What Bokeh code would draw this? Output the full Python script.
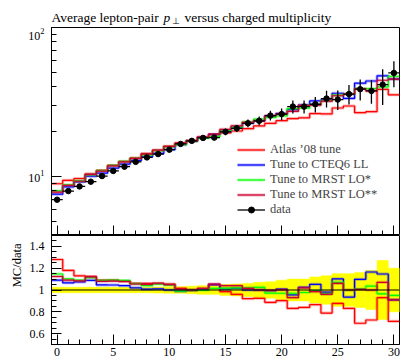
import numpy as np
from bokeh.plotting import figure
from bokeh.models import (Range1d, Legend, LegendItem, SingleIntervalTicker, FixedTicker,
                          LogTickFormatter, CustomJSTickFormatter, CustomLabelingPolicy, Span,
                          Title)
from bokeh.core.properties import value
from bokeh.layouts import column
from bokeh.embed import file_html
from bokeh.resources import INLINE

# ---------------- data ----------------
multiplicity = list(range(31))
data_mean_pt = [6.96, 7.96, 8.55, 9.2, 10.04, 10.86, 11.6, 12.5, 13.4, 14.1, 15.1,
                16.5, 17.3, 18.1, 18.2, 19.9, 21.0, 22.7, 23.6, 25.6, 26.2,
                29.4, 29.4, 30.5, 33.3, 32.8, 35.7, 38.5, 37.5, 41.3, 49.5]
data_rel_err = [0.025, 0.025, 0.025, 0.025, 0.025, 0.025, 0.025, 0.025, 0.025, 0.028, 0.03,
                0.03, 0.035, 0.04, 0.04, 0.05, 0.055, 0.06, 0.07, 0.075, 0.09,
                0.1, 0.1, 0.12, 0.13, 0.15, 0.15, 0.16, 0.18, 0.27, 0.2]
atlas08_ratio = [1.28, 1.18, 1.13, 1.125, 1.09, 1.09, 1.08, 1.06, 1.06, 1.06, 1.055,
                 1.015, 1.0, 1.01, 1.05, 0.985, 0.96, 0.92, 0.924, 0.886, 0.902,
                 0.831, 0.84, 0.865, 0.788, 0.877, 0.831, 0.695, 0.725, 0.93, 0.713]
cteq6ll_ratio = [1.09, 1.066, 1.074, 1.089, 1.047, 1.046, 1.04, 1.02, 1.008, 1.01, 1.0,
                 0.988, 0.997, 1.008, 1.05, 1.01, 1.015, 1.0, 1.0, 0.993, 1.008,
                 0.955, 1.025, 1.052, 0.98, 1.102, 0.935, 1.098, 1.165, 1.147, 0.91]
mrst_lo_star_ratio = [1.147, 1.102, 1.09, 1.113, 1.088, 1.09, 1.088, 1.058, 1.04, 1.054, 1.045,
                      0.99, 0.998, 0.997, 1.015, 1.017, 1.02, 1.02, 1.025, 0.972, 0.97,
                      0.97, 0.977, 0.995, 0.965, 1.07, 1.0, 1.01, 1.036, 0.965, 0.95]
mrst_lo_2star_ratio = [1.124, 1.09, 1.083, 1.12, 1.08, 1.082, 1.078, 1.055, 1.052, 1.062, 1.05,
                       1.008, 1.0, 1.015, 1.054, 1.04, 1.04, 1.015, 1.0, 0.997, 1.003,
                       0.93, 1.02, 0.985, 0.96, 1.06, 1.0, 1.005, 1.0, 1.07, 0.91]
legend_labels = ["Atlas \u201908 tune", "Tune to CTEQ6 LL", "Tune to MRST LO*",
                 "Tune to MRST LO**", "data"]
title_before = "Average lepton-pair"
title_symbol = "p"
title_subscript = "\u22a5"
title_after = "versus charged multiplicity"
ratio_label = "MC/data"
main_major_ticks = [10, 100]

# ---------------- derived ----------------
SERIF = "Liberation Serif"
x = np.array(multiplicity, dtype=float)
edges = np.append(x - 0.5, x[-1] + 0.5)
d = np.array(data_mean_pt)
rel = np.array(data_rel_err)
err = d * rel

series = [
    (legend_labels[0], np.array(atlas08_ratio), "#ff0000"),
    (legend_labels[1], np.array(cteq6ll_ratio), "#0000ff"),
    (legend_labels[2], np.array(mrst_lo_star_ratio), "#00ff00"),
    (legend_labels[3], np.array(mrst_lo_2star_ratio), "#cc0033"),
]

xr = Range1d(-0.5, 30.5)
BORDER = dict(min_border_left=51, min_border_right=3)


def style_axes(fig, show_x_labels):
    fig.outline_line_color = "black"
    fig.outline_line_width = 1
    fig.outline_line_alpha = 1
    fig.grid.grid_line_color = None
    fig.background_fill_color = "white"
    fig.border_fill_color = "white"
    for ax in fig.xaxis + fig.yaxis:
        ax.major_tick_in = 10
        ax.major_tick_out = 0
        ax.minor_tick_in = 5
        ax.minor_tick_out = 0
        ax.axis_line_color = "black"
        ax.major_tick_line_color = "black"
        ax.minor_tick_line_color = "black"
        ax.major_label_text_font = SERIF
        ax.major_label_text_font_size = "12px"
        ax.major_label_text_color = "black"
    fig.xaxis.ticker = SingleIntervalTicker(interval=5, num_minor_ticks=5)
    if show_x_labels:
        fig.xaxis.major_label_standoff = 3
    else:
        fig.xaxis.major_label_text_font_size = "0px"
        fig.xaxis.major_label_standoff = 0
        fig.xaxis.major_label_policy = CustomLabelingPolicy(
            code="for (const i of Array.from(indices)) indices.unset(i); return indices;")
    fig.yaxis.major_label_standoff = 7


# ---------------- header (title), x in page pixels ----------------
h = figure(width=402, height=27, x_range=Range1d(51, 399), y_range=Range1d(0, 27),
           output_backend="svg", toolbar_location=None, x_axis_location=None,
           y_axis_location=None, min_border_top=0, min_border_bottom=0, **BORDER)
h.outline_line_color = None
h.grid.grid_line_color = None
h.background_fill_color = "white"
h.border_fill_color = "white"
tkw = dict(text_font=value(SERIF), text_baseline="alphabetic", text_align="left",
           text_color="black")
h.text(x=[51], y=[10], text=[title_before], text_font_size=value("13.5px"), **tkw)
h.text(x=[163], y=[10], text=[title_symbol], text_font_size=value("13.5px"),
       text_font_style="italic", **tkw)
h.text(x=[171.5], y=[6.5], text=[title_subscript], text_font_size=value("9px"), **tkw)
h.text(x=[184], y=[10], text=[title_after], text_font_size=value("13.5px"), **tkw)

# ---------------- main panel ----------------
p = figure(width=402, height=208, x_range=xr, y_range=Range1d(4, 100),
           y_axis_type="log", output_backend="svg", toolbar_location=None,
           min_border_top=0, min_border_bottom=0, **BORDER)
style_axes(p, False)
p.yaxis.ticker = FixedTicker(ticks=main_major_ticks,
                             minor_ticks=[k * t / 10 for t in main_major_ticks for k in range(2, 10)])
p.yaxis.formatter = LogTickFormatter()

legend_items = []
for name, ratio, color in series:
    mc = d * ratio
    ys = np.append(mc, mc[-1])
    halo = p.step(edges, ys, mode="after", line_color=color, line_width=3, line_alpha=0.3)
    ln = p.step(edges, ys, mode="after", line_color=color, line_width=1.2)
    legend_items.append(LegendItem(label=name, renderers=[halo, ln]))

p.segment(x, d - err, x, d + err, line_color="black", line_width=1.3)
hbar = p.segment(x - 0.5, d, x + 0.5, d, line_color="black", line_width=1.3)
pts = p.scatter(x, d, size=5.5, color="black")
legend_items.append(LegendItem(label=legend_labels[4], renderers=[hbar, pts]))

legend = Legend(items=legend_items, location=(186, 18), padding=0, margin=0, spacing=0,
                label_height=15, glyph_height=15, glyph_width=28, label_standoff=5,
                label_text_font=SERIF, label_text_font_size="12.5px",
                background_fill_alpha=0, border_line_color=None)
p.add_layout(legend)

# ---------------- ratio panel ----------------
r = figure(width=402, height=123, x_range=xr, y_range=Range1d(0.5, 1.5),
           output_backend="svg", toolbar_location=None,
           min_border_top=0, min_border_bottom=0, **BORDER)
style_axes(r, True)
r.yaxis.ticker = SingleIntervalTicker(interval=0.2, num_minor_ticks=4)
r.yaxis.formatter = CustomJSTickFormatter(code="return Number(tick.toFixed(2)).toString();")
r.add_layout(Title(text=ratio_label, align="right", offset=8, standoff=6,
                   text_font=SERIF, text_font_size="12.5px", text_font_style="normal",
                   text_color="black"), "left")

r.quad(left=edges[:-1], right=edges[1:], bottom=1 - rel, top=1 + rel,
       fill_color="#ffff00", line_color="#ffff00", line_width=0.5)
r.add_layout(Span(location=1, dimension="width", line_color="black", line_width=1.2))
for name, ratio, color in series:
    ys = np.append(ratio, ratio[-1])
    r.step(edges, ys, mode="after", line_color=color, line_width=3, line_alpha=0.3)
    r.step(edges, ys, mode="after", line_color=color, line_width=1.2)

layout = column(h, p, r, spacing=0)
open("out.html", "w").write(file_html(layout, INLINE))
